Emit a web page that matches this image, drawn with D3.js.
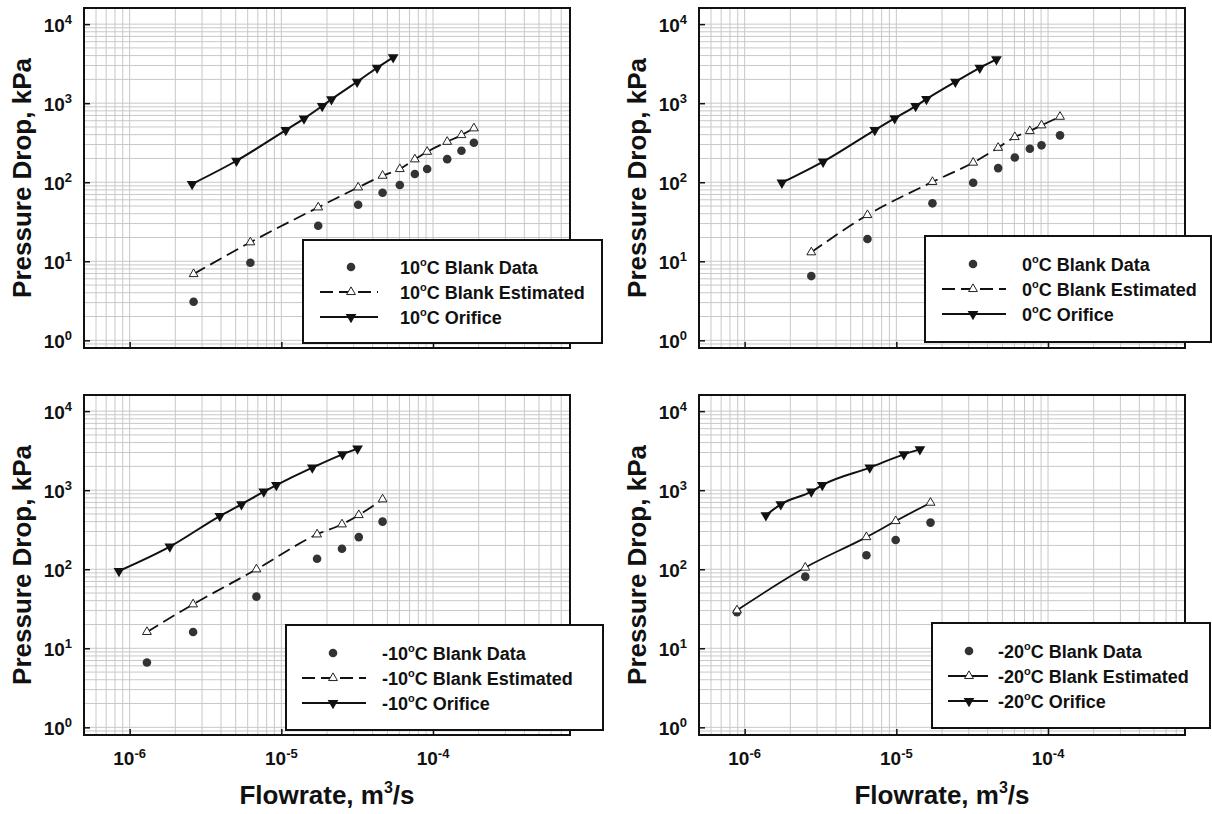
<!DOCTYPE html>
<html>
<head>
<meta charset="utf-8">
<script src="https://cdn.jsdelivr.net/npm/d3@7"></script>
<style>
  body { margin: 0; background: #fff; }
  svg text { font-family: "Liberation Sans", Arial, sans-serif; font-weight: bold; fill: #111; }
</style>
</head>
<body>
<svg id="chart" width="1212" height="814"></svg>
<script>
// tick values
var flowTicks = [1e-6, 1e-5, 1e-4];
var pressureTicks = [1, 10, 100, 1000, 10000];

// 10 C
var orifice10X = [2.58e-6, 5.06e-6, 1.07e-5, 1.41e-5, 1.86e-5, 2.14e-5, 3.16e-5, 4.28e-5, 5.46e-5];
var orifice10Y = [95, 187, 457, 638, 920, 1120, 1866, 2805, 3802];
var blank10X = [2.64e-6, 6.25e-6, 1.75e-5, 3.21e-5, 4.65e-5, 6.04e-5, 7.59e-5, 9.15e-5, 1.24e-4, 1.54e-4, 1.86e-4];
var est10Y = [6.9, 17.4, 48.1, 86.1, 121, 147, 195, 243, 325, 395, 481];
var data10Y = [3.08, 9.6, 28.2, 51.9, 73.6, 92.2, 127, 147, 196, 250, 316];

// 0 C
var orifice0X = [1.76e-6, 3.29e-6, 7.21e-6, 9.75e-6, 1.34e-5, 1.58e-5, 2.45e-5, 3.55e-5, 4.57e-5];
var orifice0Y = [98.6, 182, 457, 643, 920, 1128, 1866, 2805, 3589];
var blank0X = [2.75e-6, 6.45e-6, 1.73e-5, 3.21e-5, 4.69e-5, 6.04e-5, 7.59e-5, 9.06e-5, 1.2e-4];
var est0Y = [13, 38.5, 101, 177, 273, 373, 444, 525, 674];
var data0Y = [6.5, 19.1, 54.1, 98.6, 151, 206, 265, 293, 392];

// -10 C
var orificeM10X = [8.5e-7, 1.84e-6, 3.93e-6, 5.46e-6, 7.66e-6, 9.27e-6, 1.6e-5, 2.53e-5, 3.18e-5];
var orificeM10Y = [94.9, 193, 471, 662, 959, 1161, 1928, 2842, 3357];
var blankM10X = [1.3e-6, 2.62e-6, 6.85e-6, 1.72e-5, 2.51e-5, 3.24e-5, 4.65e-5];
var estM10Y = [16.1, 36, 99.7, 276, 370, 485, 766];
var dataM10Y = [6.6, 16.1, 45, 136, 182, 255, 400];

// -20 C
var orificeM20X = [1.38e-6, 1.73e-6, 2.75e-6, 3.25e-6, 6.68e-6, 1.12e-5, 1.43e-5];
var orificeM20Y = [481, 662, 959, 1161, 1928, 2842, 3286];
var blankM20X = [8.9e-7, 2.51e-6, 6.35e-6, 9.9e-6, 1.68e-5];
var estM20Y = [30.2, 105, 255, 407, 695];
var dataM20Y = [28.7, 80.6, 150, 234, 389];

var temps = ["10", "0", "-10", "-20"];

// layout of the four panels
var plotW = 486, plotH = 340;
var panels = [
  {temp: temps[0], x0: 84, y0: 8, orX: orifice10X, orY: orifice10Y, bX: blank10X, estY: est10Y, datY: data10Y,
   dashed: true, xAxis: false,
   legend: {dx: 219, dy: 232, w: 299, h: 103, line: [17, 75], sym: 48, text: 97, rows: [27, 52, 77]}},
  {temp: temps[1], x0: 699, y0: 8, orX: orifice0X, orY: orifice0Y, bX: blank0X, estY: est0Y, datY: data0Y,
   dashed: true, xAxis: false,
   legend: {dx: 226, dy: 228, w: 286, h: 106, line: [17, 81], sym: 48, text: 97, rows: [28, 53, 78]}},
  {temp: temps[2], x0: 84, y0: 395, orX: orificeM10X, orY: orificeM10Y, bX: blankM10X, estY: estM10Y, datY: dataM10Y,
   dashed: true, xAxis: true,
   legend: {dx: 202, dy: 230, w: 317, h: 105, line: [16, 80], sym: 47, text: 96, rows: [28, 53, 78]}},
  {temp: temps[3], x0: 699, y0: 395, orX: orificeM20X, orY: orificeM20Y, bX: blankM20X, estY: estM20Y, datY: dataM20Y,
   dashed: false, xAxis: true,
   legend: {dx: 233, dy: 228, w: 278, h: 105, line: [16, 56], sym: 37, text: 66, rows: [28, 53, 78]}}
];

var svg = d3.select("#chart");

var x = d3.scaleLog().domain([5e-7, 8e-4]).range([0, plotW]);
var y = d3.scaleLog().domain([0.8, 16000]).range([plotH, 0]);

// minor grid values
function minorValues(scale) {
  var dom = scale.domain(), vals = [];
  for (var e = -8; e <= 5; e++) {
    for (var m = 1; m <= 9; m++) {
      var v = +(m * Math.pow(10, e)).toPrecision(3);
      if (v >= dom[0] && v <= dom[1]) vals.push(v);
    }
  }
  return vals;
}
var xGrid = minorValues(x);
var yGrid = minorValues(y);

var line = d3.line()
  .x(function(d) { return x(d[0]); })
  .y(function(d) { return y(d[1]); })
  .curve(d3.curveMonotoneX);

var upTri = d3.symbol().type(d3.symbolTriangle).size(34);
var downTri = d3.symbol().type(d3.symbolTriangle).size(50);

// text with a raised exponent
function powText(sel, base, exp, size, expSize, lift) {
  sel.append("tspan").text(base).style("font-size", size + "px");
  sel.append("tspan").text(exp).style("font-size", expSize + "px").attr("dy", -lift);
}

// legend label like 10°C Blank Data
function tempLabel(sel, temp, rest) {
  sel.append("tspan").text(temp);
  sel.append("tspan").text("o").style("font-size", "11px").attr("dy", -8);
  sel.append("tspan").text("C " + rest).attr("dy", 8);
}

panels.forEach(function(p, idx) {
  var g = svg.append("g").attr("transform", "translate(" + p.x0 + "," + p.y0 + ")");

  // grid
  g.append("g").selectAll("line").data(xGrid).enter().append("line")
    .attr("x1", function(d) { return x(d); }).attr("x2", function(d) { return x(d); })
    .attr("y1", 0).attr("y2", plotH)
    .attr("stroke", "#c8c8c8").attr("stroke-width", 1);
  g.append("g").selectAll("line").data(yGrid).enter().append("line")
    .attr("y1", function(d) { return y(d); }).attr("y2", function(d) { return y(d); })
    .attr("x1", 0).attr("x2", plotW)
    .attr("stroke", "#c8c8c8").attr("stroke-width", 1);

  // y axis, ticks inward
  var yAxis = g.append("g")
    .call(d3.axisRight(y).tickValues(pressureTicks).tickSize(6).tickFormat(""));
  yAxis.select(".domain").remove();
  yAxis.selectAll("line").attr("stroke", "#111").attr("stroke-width", 1.5);

  var xAxis = g.append("g").attr("transform", "translate(0," + plotH + ")")
    .call(d3.axisTop(x).tickValues(flowTicks).tickSize(6).tickFormat(""));
  xAxis.select(".domain").remove();
  xAxis.selectAll("line").attr("stroke", "#111").attr("stroke-width", 1.5);

  // y tick labels
  pressureTicks.forEach(function(t) {
    var txt = g.append("text")
      .attr("x", -12).attr("y", y(t) + 8)
      .attr("text-anchor", "end");
    powText(txt, "10", String(Math.round(Math.log10(t))), 19, 13, 8);
  });

  // y title
  g.append("text")
    .attr("transform", "translate(" + (31 - 84) + "," + (plotH / 2) + ") rotate(-90)")
    .attr("text-anchor", "middle")
    .style("font-size", "26px")
    .text("Pressure Drop, kPa");

  if (p.xAxis) {
    flowTicks.forEach(function(t) {
      var txt = g.append("text")
        .attr("x", x(t)).attr("y", 370)
        .attr("text-anchor", "middle");
      powText(txt, "10", String(Math.round(Math.log10(t))), 19, 13, 7);
    });
    var xt = g.append("text")
      .attr("x", plotW / 2).attr("y", 409)
      .attr("text-anchor", "middle")
      .style("font-size", "26px");
    xt.append("tspan").text("Flowrate, m");
    xt.append("tspan").text("3").style("font-size", "16px").attr("dy", -11);
    xt.append("tspan").text("/s").attr("dy", 11);
  }

  // series
  var orPts = d3.zip(p.orX, p.orY);
  var estPts = d3.zip(p.bX, p.estY);
  var datPts = d3.zip(p.bX, p.datY);

  g.append("path").datum(estPts)
    .attr("d", line).attr("fill", "none")
    .attr("stroke", "#111").attr("stroke-width", 1.8)
    .attr("stroke-dasharray", p.dashed ? "13,6" : null);
  g.append("path").datum(orPts)
    .attr("d", line).attr("fill", "none")
    .attr("stroke", "#111").attr("stroke-width", 2);

  g.selectAll(".dat").data(datPts).enter().append("circle")
    .attr("cx", function(d) { return x(d[0]); })
    .attr("cy", function(d) { return y(d[1]); })
    .attr("r", 4.3).attr("fill", "#333");
  g.selectAll(".est").data(estPts).enter().append("path")
    .attr("d", upTri)
    .attr("transform", function(d) { return "translate(" + x(d[0]) + "," + y(d[1]) + ")"; })
    .attr("fill", "#fff").attr("stroke", "#222").attr("stroke-width", 1);
  g.selectAll(".or").data(orPts).enter().append("path")
    .attr("d", downTri)
    .attr("transform", function(d) { return "translate(" + x(d[0]) + "," + y(d[1]) + ") rotate(180)"; })
    .attr("fill", "#111");

  // frame
  g.append("rect").attr("width", plotW).attr("height", plotH)
    .attr("fill", "none").attr("stroke", "#111").attr("stroke-width", 2);

  // legend
  var L = p.legend;
  var lg = g.append("g").attr("transform", "translate(" + L.dx + "," + L.dy + ")");
  lg.append("rect").attr("width", L.w).attr("height", L.h)
    .attr("fill", "#fff").attr("stroke", "#111").attr("stroke-width", 2);

  lg.append("circle").attr("cx", L.sym).attr("cy", L.rows[0]).attr("r", 4.3).attr("fill", "#333");

  lg.append("line").attr("x1", L.line[0]).attr("x2", L.line[1])
    .attr("y1", L.rows[1]).attr("y2", L.rows[1])
    .attr("stroke", "#111").attr("stroke-width", 1.8)
    .attr("stroke-dasharray", p.dashed ? "13,6" : null);
  lg.append("path").attr("d", upTri)
    .attr("transform", "translate(" + L.sym + "," + L.rows[1] + ")")
    .attr("fill", "#fff").attr("stroke", "#222");

  lg.append("line").attr("x1", L.line[0]).attr("x2", L.line[1])
    .attr("y1", L.rows[2]).attr("y2", L.rows[2])
    .attr("stroke", "#111").attr("stroke-width", 2);
  lg.append("path").attr("d", downTri)
    .attr("transform", "translate(" + L.sym + "," + L.rows[2] + ") rotate(180)")
    .attr("fill", "#111");

  var labels = ["Blank Data", "Blank Estimated", "Orifice"];
  labels.forEach(function(lab, i) {
    var t = lg.append("text").attr("x", L.text).attr("y", L.rows[i] + 6.5)
      .style("font-size", "18px");
    tempLabel(t, p.temp, lab);
  });
});
</script>
</body>
</html>
